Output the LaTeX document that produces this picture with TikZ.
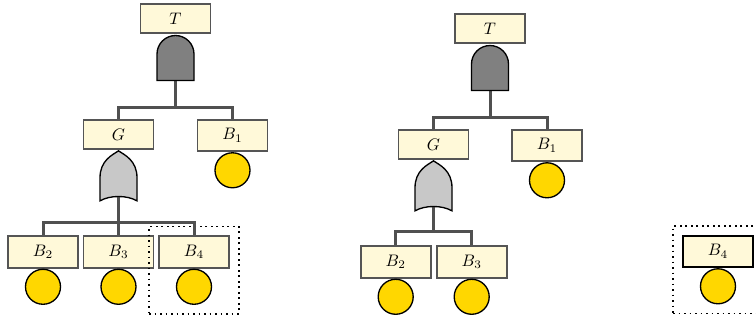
\documentclass[tikz,border=0pt]{standalone}
\usepackage{amsmath,amssymb}
\usepackage{tikz}
\usetikzlibrary{calc, positioning, fit}

\definecolor{boxfill}{RGB}{255,249,217}
\definecolor{boxline}{RGB}{85,85,85}
\definecolor{connline}{RGB}{80,80,80}
\definecolor{basicfill}{RGB}{255,215,0}
\definecolor{andfill}{RGB}{128,128,128}
\definecolor{orfill}{RGB}{200,200,200}

% gate outlines drawn over an empty placeholder node
\newcommand{\andgate}[1]{%
  \filldraw[fill=andfill, line width=0.8pt] (#1.south west) -- ++(0pt,15.9pt)
    arc[start angle=180, end angle=0, radius=11.1pt] -- (#1.south east) -- cycle;}
\newcommand{\orgate}[1]{%
  \filldraw[fill=orfill, line width=0.8pt] (#1.south west) -- ($(#1.south west)+(0pt,13.8pt)$)
    .. controls ($(#1.south west)+(0pt,24.3pt)$) and ($(#1.north)+(-3.6pt,-2.4pt)$) .. (#1.north)
    .. controls ($(#1.north)+(3.6pt,-2.4pt)$) and ($(#1.south east)+(0pt,24.3pt)$) .. ($(#1.south east)+(0pt,13.8pt)$)
    -- (#1.south east)
    .. controls ($(#1.south east)+(-6pt,3.5pt)$) and ($(#1.south west)+(6pt,3.5pt)$) .. (#1.south west) -- cycle;}

\begin{document}
\begin{tikzpicture}[
      x=0.6pt, y=0.6pt,
      box/.style={draw=boxline, fill=boxfill, line width=1pt, minimum width=42pt, inner ysep=5.3pt},
      basic/.style={circle, draw, fill=basicfill, line width=0.8pt, minimum size=21pt, inner sep=0pt},
      andbox/.style={minimum width=22.2pt, minimum height=27pt, inner sep=0pt, outer sep=0pt},
      orbox/.style={minimum width=22.2pt, minimum height=30pt, inner sep=0pt, outer sep=0pt},
      conn/.style={draw=connline, line width=1.8pt},
      group/.style={draw, line width=1pt, dash pattern=on 1pt off 2.3pt, inner sep=5.4pt}
    ]
\useasboundingbox (0,0) rectangle (756,-322);

% Left tree
      \node[box] (lT) at (175.5,-18.5) {$T$};
      \node[andbox, below=1pt of lT] (land) {};
      \node[box] (lG) at (118.5,-134.5) {$G$};
      \node[box] (lB1) at (232.5,-135.5) {$B_1$};
      \node[basic, below=0pt of lB1] (lc1) {};
      \node[orbox, below=0.6pt of lG] (lor) {};
      \node[box] (lB2) at (43,-252) {$B_2$};
      \node[box] (lB3) at (118.5,-252) {$B_3$};
      \node[box] (lB4) at (194,-252) {$B_4$};
      \node[basic, below=0pt of lB2] (lc2) {};
      \node[basic, below=0pt of lB3] (lc3) {};
      \node[basic, below=0pt of lB4] (lc4) {};
      \node[group, fit=(lB4)(lc4)] (lgrp) {};

% Middle tree
      \node[box] (mT) at (490,-28.5) {$T$};
      \node[andbox, below=1pt of mT] (mand) {};
      \node[box] (mG) at (433.5,-144.5) {$G$};
      \node[box] (mB1) at (547,-145.5) {$B_1$};
      \node[basic, below=0pt of mB1] (mc1) {};
      \node[orbox, below=0.6pt of mG] (mor) {};
      \node[box] (mB2) at (395.7,-262) {$B_2$};
      \node[box] (mB3) at (471.7,-262) {$B_3$};
      \node[basic, below=0pt of mB2] (mc2) {};
      \node[basic, below=0pt of mB3] (mc3) {};

% Right: lone event
      \node[box, draw=black] (rB4) at (718,-251.5) {$B_4$};
      \node[basic, below=0pt of rB4] (rc4) {};
      \node[group, fit=(rB4)(rc4)] (rgrp) {};

% Connectors
      \draw[conn] (land.south) -- ++(0,-27) -| (lG.north);
      \draw[conn] (land.south) -- ++(0,-27) -| (lB1.north);
      \draw[conn] (lor.center) -- ++(0,-47) -| (lB2.north);
      \draw[conn] (lor.center) -- ++(0,-47) -| (lB3.north);
      \draw[conn] (lor.center) -- ++(0,-47) -| (lB4.north);

      \draw[conn] (mand.south) -- ++(0,-27) -| (mG.north);
      \draw[conn] (mand.south) -- ++(0,-27) -| (mB1.north);
      \draw[conn] (mor.center) -- ++(0,-46) -| (mB2.north);
      \draw[conn] (mor.center) -- ++(0,-46) -| (mB3.north);

% Gates
      \andgate{land}
      \orgate{lor}
      \andgate{mand}
      \orgate{mor}
    \end{tikzpicture}
\end{document}
